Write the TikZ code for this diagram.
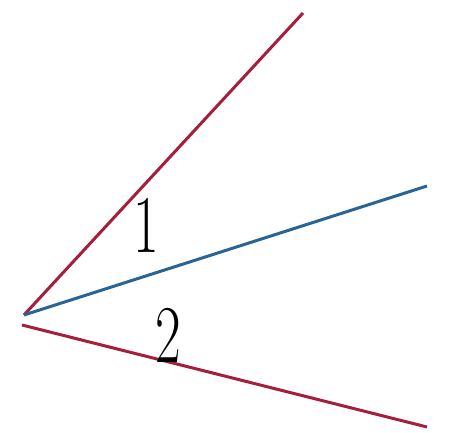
\documentclass[tikz,border=0pt]{standalone}
\definecolor{rayred}{RGB}{165, 30, 60}
\definecolor{rayblue}{RGB}{40, 100, 150}
\usepackage{tikz}
\usetikzlibrary{positioning}

\begin{document}
\begin{tikzpicture}[x=1pt, y=1pt,
  redray/.style={line width=3pt, rayred},
  blueray/.style={line width=3pt, rayblue},
  anglelabel/.style={font=\fontsize{82}{82}\selectfont, inner sep=0pt, xscale=0.68}]
  \useasboundingbox (0,0) rectangle (450,433);

  %% VERTEX AND RAY ENDS
  \coordinate (vertex) at (24,118);
  \coordinate (lowstart) at (22,108);
  \coordinate (topend) at (303,420);
  \coordinate (midend) at (427,247);
  \coordinate (lowend) at (427,6);

  %% RAYS
  \draw[redray] (vertex) -- (topend);
  \draw[blueray] (vertex) -- (midend);
  \draw[redray] (lowstart) -- (lowend);

  %% ANGLE LABELS
  \node[anglelabel] (lblone) at (146,208) {1};
  \node[anglelabel] (lbltwo) at (168,98) {2};
\end{tikzpicture}
\end{document}
